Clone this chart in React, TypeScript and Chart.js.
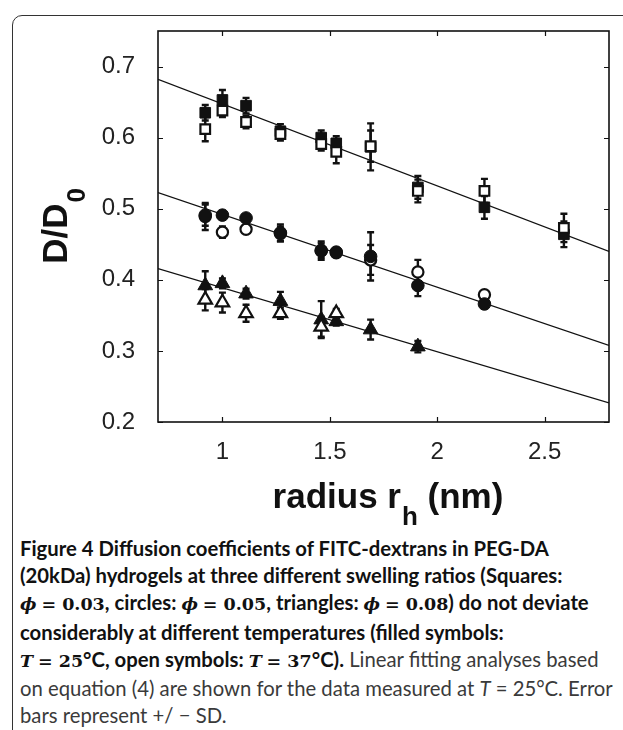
import React, { useEffect, useRef } from "react";
import { Chart, registerables } from "chart.js";

Chart.register(...registerables);

// ---- data ----
const radius = [0.92, 1.0, 1.11, 1.27, 1.46, 1.53, 1.69, 1.91, 2.22, 2.59];

// squares: phi = 0.03
const sq25 = [0.635, 0.653, 0.645, 0.609, 0.6, 0.592, 0.587, 0.53, 0.502, 0.464];
const sq25Err = [0.011, 0.014, 0.011, 0.01, 0.01, 0.01, 0.033, 0.016, 0.016, 0.018];
const sq37 = [0.612, 0.638, 0.622, 0.605, 0.591, 0.58, 0.588, 0.525, 0.525, 0.473];
const sq37Err = [0.017, 0.009, 0.009, 0.009, 0.009, 0.016, 0.022, 0.016, 0.017, 0.02];

// circles: phi = 0.05
const ci25 = [0.491, 0.491, 0.487, 0.466, 0.441, 0.439, 0.433, 0.392, 0.366];
const ci25Err = [0.015, 0.006, 0.005, 0.012, 0.013, 0.005, 0.034, 0.015, 0.004];
const ci37 = [0.489, 0.467, 0.471, 0.465, 0.441, 0.438, 0.428, 0.411, 0.379];
const ci37Err = [0.019, 0.008, 0.005, 0.01, 0.01, 0.005, 0.021, 0.017, 0.004];

// triangles: phi = 0.08
const tr25 = [0.392, 0.395, 0.3805, 0.37, 0.344, 0.3415, 0.33, 0.306];
const tr25Err = [0.02, 0.007, 0.007, 0.013, 0.026, 0.006, 0.014, 0.008];
const tr37 = [0.372, 0.368, 0.353, 0.353, 0.334, 0.353];
const tr37Err = [0.015, 0.014, 0.012, 0.008, 0.014, 0.006];

// linear fits (T = 25 C), end points at the axis limits
const fitX = [0.7, 2.8];
const fitSq = [0.682, 0.44];
const fitCi = [0.5226, 0.3076];
const fitTr = [0.4158, 0.227];

const xTicks = [1, 1.5, 2, 2.5];
const yTicks = [0.2, 0.3, 0.4, 0.5, 0.6, 0.7];
const xRange = [0.7, 2.8];
const yRange = [0.2, 0.75];

const pts = (ys: number[]) => ys.map((y, i) => ({ x: radius[i], y }));
const fitPts = (ys: number[]) => ys.map((y, i) => ({ x: fitX[i], y }));

const INK = "#111";

const errorBarPlugin = {
  id: "errorBars",
  beforeDatasetsDraw(chart: any) {
    const ctx = chart.ctx;
    const xs = chart.scales.x;
    const ys = chart.scales.y;
    ctx.save();
    ctx.strokeStyle = INK;
    ctx.lineWidth = 2.4;
    chart.data.datasets.forEach((ds: any) => {
      if (!ds.errors) return;
      ds.data.forEach((p: any, i: number) => {
        const e = ds.errors[i];
        if (e == null) return;
        const px = xs.getPixelForValue(p.x);
        const top = ys.getPixelForValue(p.y + e);
        const bot = ys.getPixelForValue(p.y - e);
        const cw = 3.5;
        ctx.beginPath();
        ctx.moveTo(px, top);
        ctx.lineTo(px, bot);
        ctx.moveTo(px - cw, top);
        ctx.lineTo(px + cw, top);
        ctx.moveTo(px - cw, bot);
        ctx.lineTo(px + cw, bot);
        ctx.stroke();
      });
    });
    ctx.restore();
  },
};

const framePlugin = {
  id: "frame",
  afterDraw(chart: any) {
    const ctx = chart.ctx;
    const a = chart.chartArea;
    const xs = chart.scales.x;
    const ys = chart.scales.y;
    ctx.save();
    ctx.strokeStyle = INK;
    ctx.lineWidth = 1.6;
    ctx.strokeRect(a.left, a.top, a.right - a.left, a.bottom - a.top);
    ctx.lineWidth = 1.2;
    const tl = 5;
    ctx.beginPath();
    xs.ticks.forEach((t: any) => {
      const px = Math.round(xs.getPixelForValue(t.value)) + 0.5;
      ctx.moveTo(px, a.bottom);
      ctx.lineTo(px, a.bottom - tl);
      ctx.moveTo(px, a.top);
      ctx.lineTo(px, a.top + tl);
    });
    ys.ticks.forEach((t: any) => {
      const py = Math.round(ys.getPixelForValue(t.value)) + 0.5;
      ctx.moveTo(a.left, py);
      ctx.lineTo(a.left + tl, py);
      ctx.moveTo(a.right, py);
      ctx.lineTo(a.right - tl, py);
    });
    ctx.stroke();

    // axis titles with subscripts
    ctx.fillStyle = INK;
    ctx.textBaseline = "alphabetic";
    const mainFont = 'bold 35px "Liberation Sans", Arial, sans-serif';
    const subFont = 'bold 26px "Liberation Sans", Arial, sans-serif';

    // x title: radius r_h (nm)
    ctx.font = mainFont;
    const a1 = "radius r";
    const a3 = " (nm)";
    const w1 = ctx.measureText(a1).width;
    const w3 = ctx.measureText(a3).width;
    ctx.font = subFont;
    const w2 = ctx.measureText("h").width;
    const total = w1 + w2 + w3;
    const cx = (a.left + a.right) / 2 + 4;
    const base = a.bottom + 86;
    let x0 = cx - total / 2;
    ctx.textAlign = "left";
    ctx.font = mainFont;
    ctx.fillText(a1, x0, base);
    ctx.font = subFont;
    ctx.fillText("h", x0 + w1 + 1, base + 17);
    ctx.font = mainFont;
    ctx.fillText(a3, x0 + w1 + w2 + 1, base);

    // y title: D/D_0
    ctx.font = mainFont;
    const b1 = "D/D";
    const v1 = ctx.measureText(b1).width;
    ctx.font = subFont;
    const v2 = ctx.measureText("0").width;
    const tot2 = v1 + v2;
    ctx.save();
    ctx.translate(67, (a.top + a.bottom) / 2);
    ctx.rotate(-Math.PI / 2);
    ctx.font = mainFont;
    ctx.fillText(b1, -tot2 / 2, 0);
    ctx.font = subFont;
    ctx.fillText("0", -tot2 / 2 + v1 + 1, 18);
    ctx.restore();

    ctx.restore();
  },
};

export default function App() {
  const ref = useRef<HTMLCanvasElement | null>(null);

  useEffect(() => {
    document.body.style.margin = "0";
    const canvas = ref.current;
    if (!canvas) return;
    const marker = (
      label: string,
      data: number[],
      errors: number[],
      style: string,
      r: number,
      filled: boolean,
      order: number
    ) => ({
      type: "scatter" as const,
      label,
      data: pts(data),
      errors,
      pointStyle: style,
      pointRadius: r,
      pointHoverRadius: r,
      backgroundColor: filled ? INK : "#fff",
      borderColor: INK,
      borderWidth: filled ? 1 : 2.2,
      showLine: false,
      order,
    });
    const fit = (label: string, ys: number[]) => ({
      type: "line" as const,
      label,
      data: fitPts(ys),
      borderColor: INK,
      borderWidth: 1.2,
      pointRadius: 0,
      fill: false,
      tension: 0,
      order: 20,
    });

    const chart = new Chart(canvas, {
      type: "scatter",
      data: {
        datasets: [
          fit("fit squares", fitSq),
          fit("fit circles", fitCi),
          fit("fit triangles", fitTr),
          marker("squares 25", sq25, sq25Err, "rect", 7.5, true, 3),
          marker("squares 37", sq37, sq37Err, "rect", 6.8, false, 2),
          marker("circles 25", ci25, ci25Err, "circle", 6.3, true, 2),
          marker("circles 37", ci37, ci37Err, "circle", 5.6, false, 3),
          marker("triangles 25", tr25, tr25Err, "triangle", 8.5, true, 3),
          marker("triangles 37", tr37, tr37Err, "triangle", 7.8, false, 2),
        ] as any,
      },
      options: {
        animation: false,
        responsive: false,
        maintainAspectRatio: false,
        events: [],
        layout: { padding: { left: 0, right: 14, top: 31, bottom: 0 } },
        plugins: {
          legend: { display: false },
          tooltip: { enabled: false },
          title: { display: false },
        },
        scales: {
          x: {
            type: "linear",
            min: xRange[0],
            max: xRange[1],
            afterBuildTicks: (s: any) => {
              s.ticks = xTicks.map((v) => ({ value: v }));
            },
            afterFit: (s: any) => {
              s.height = 108;
            },
            grid: { display: false },
            border: { display: false },
            ticks: {
              padding: 8,
              color: "#222",
              font: { family: '"Liberation Sans", Arial, sans-serif', size: 24 },
              callback: (v: any) => String(Math.round(Number(v) * 10) / 10),
            },
          },
          y: {
            type: "linear",
            min: yRange[0],
            max: yRange[1],
            afterBuildTicks: (s: any) => {
              s.ticks = yTicks.map((v) => ({ value: v }));
            },
            afterFit: (s: any) => {
              s.width = 158;
            },
            grid: { display: false },
            border: { display: false },
            ticks: {
              padding: 15,
              color: "#222",
              font: { family: '"Liberation Sans", Arial, sans-serif', size: 24 },
              callback: (v: any) => Number(v).toFixed(1),
            },
          },
        },
      },
      plugins: [errorBarPlugin, framePlugin],
    });
    return () => chart.destroy();
  }, []);

  const mathB: React.CSSProperties = {
    fontFamily: '"DejaVu Serif", "Liberation Serif", serif',
    fontWeight: 700,
    fontSize: 17.5,
  };
  const mathBI: React.CSSProperties = { ...mathB, fontStyle: "italic" };

  return (
    <div
      style={{
        position: "relative",
        width: 623,
        height: 730,
        overflow: "hidden",
        background: "#fff",
      }}
    >
      <div
        style={{
          position: "absolute",
          left: 12,
          top: 15,
          width: 700,
          height: 800,
          border: "1.5px solid #333",
          borderTopLeftRadius: 10,
          boxSizing: "border-box",
        }}
      />
      <canvas
        ref={ref}
        width={623}
        height={530}
        style={{ position: "absolute", left: 0, top: 0, width: 623, height: 530 }}
      />
      <div
        style={{
          position: "absolute",
          left: 20,
          top: 535,
          fontFamily: 'Lato, "Open Sans", sans-serif',
          fontSize: 20.3,
          lineHeight: "27.2px",
          color: "#3a3a3a",
          whiteSpace: "nowrap",
        }}
      >
        <b style={{ color: INK }}>Figure 4 Diffusion coefficients of FITC-dextrans in PEG-DA</b>
        <br />
        <b style={{ color: INK }}>(20kDa) hydrogels at three different swelling ratios (Squares:</b>
        <br />
        <b style={{ color: INK }}>
          <span style={mathBI}>ϕ</span> <span style={mathB}>= 0.03</span>, circles:{" "}
          <span style={mathBI}>ϕ</span> <span style={mathB}>= 0.05</span>, triangles:{" "}
          <span style={mathBI}>ϕ</span> <span style={mathB}>= 0.08</span>) do not deviate
        </b>
        <br />
        <b style={{ color: INK }}>considerably at different temperatures (filled symbols:</b>
        <br />
        <b style={{ color: INK }}>
          <span style={mathBI}>T</span> <span style={mathB}>= 25</span>°C, open symbols:{" "}
          <span style={mathBI}>T</span> <span style={mathB}>= 37</span>°C).
        </b>{" "}
        Linear fitting analyses based
        <br />
        on equation (4) are shown for the data measured at <i>T</i> = 25°C. Error
        <br />
        bars represent +/ − SD.
      </div>
    </div>
  );
}
